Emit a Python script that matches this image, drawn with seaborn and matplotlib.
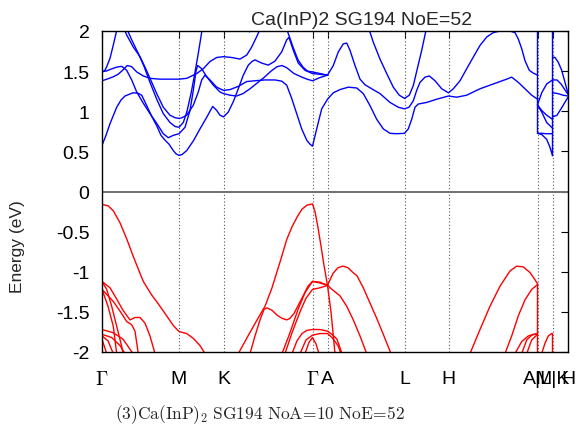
import matplotlib
matplotlib.use("Agg")
import matplotlib.pyplot as plt
import pandas as pd
import seaborn as sns

# ---------------- high-symmetry path ----------------
sym_k = [0, 77, 121.5, 210.5, 225.5, 302.5, 346.5, 435.5, 450.5, 466]
sym_labels = [r"$\Gamma$", "M", "K", r"$\Gamma$", "A", "L", "H", "A|L", "M|K", "H"]
y_ticks = [-2, -1.5, -1, -0.5, 0, 0.5, 1, 1.5, 2]
y_ticklabels = ["-2", "-1.5", "-1", "-0.5", "0", "0.5", "1", "1.5", "2"]

# ---------------- conduction bands (k, E in eV) ----------------
cb_1 = [(0, 0.575), (4, 0.70), (8, 0.845), (14.7, 1.05), (19, 1.14), (23, 1.19), (31, 1.23), (36, 1.225),
        (39.7, 1.20), (44.7, 1.07), (50, 0.93), (54.7, 0.82), (59, 0.70), (63, 0.64), (67, 0.59),
        (71.3, 0.51), (74, 0.47), (77, 0.45), (80, 0.46), (84.7, 0.51), (91.3, 0.63), (98, 0.78),
        (104.7, 0.925), (110.7, 1.06), (114.7, 1.01), (118, 0.95), (121.5, 0.93), (126.3, 0.99),
        (131.3, 1.12), (136.3, 1.28), (141.3, 1.45), (146.3, 1.575), (150, 1.62), (153, 1.64),
        (159.7, 1.60), (166.3, 1.575), (173, 1.625), (179.7, 1.74), (184.7, 1.89), (187, 1.92),
        (191.3, 1.76), (196.3, 1.60), (203, 1.51), (210.5, 1.47), (218, 1.46), (225.5, 1.45),
        (231.3, 1.57), (236.3, 1.74), (241.3, 1.84), (244.7, 1.85), (248, 1.76), (253, 1.57),
        (258, 1.40), (263, 1.33), (269.7, 1.28), (278, 1.22), (288, 1.11), (296.3, 1.05), (302.5, 1.03),
        (307, 1.05), (311.3, 1.13), (314.7, 1.26), (318, 1.36), (323, 1.425), (327.3, 1.44),
        (333, 1.38), (339.7, 1.28), (346.5, 1.23), (351.3, 1.28), (358, 1.38), (364.7, 1.53),
        (371.3, 1.675), (378, 1.82), (384.7, 1.925), (391.3, 1.98), (398, 2.0), (404, 2.01),
        (408, 2.0), (413, 1.98), (416.3, 1.90), (419.7, 1.78), (423, 1.63), (427.3, 1.51),
        (431.3, 1.475), (435.5, 1.45)]
cb_2 = [(0, 1.50), (4, 1.50), (8, 1.52), (14.7, 1.55), (19.7, 1.56), (24.7, 1.51), (29.7, 1.39),
        (34.7, 1.24), (41.3, 1.10), (48, 0.97), (54.7, 0.85), (61.3, 0.72), (66.3, 0.67), (71.3, 0.70),
        (77, 0.72), (83, 0.80), (88, 1.01), (91.3, 1.26), (94, 1.50), (95.7, 1.57), (99.7, 1.53),
        (104.7, 1.43), (111.3, 1.325), (118, 1.24), (121.5, 1.22), (128, 1.20), (134.7, 1.19),
        (141, 1.22), (148, 1.28), (155, 1.35), (162, 1.42), (169, 1.50), (175, 1.555), (180, 1.57),
        (185, 1.54), (192, 1.47), (199, 1.43), (205, 1.40), (210.5, 1.38), (218, 1.42), (225.5, 1.45)]
cb_3 = [(0, 1.38), (5, 1.40), (11.3, 1.43), (16, 1.46), (19.7, 1.50), (25.3, 1.57), (29.7, 1.555),
        (34.7, 1.49), (41.3, 1.44), (48, 1.41), (58, 1.40), (67, 1.40), (77, 1.40), (84.7, 1.41),
        (89.7, 1.44), (94.7, 1.47), (101.3, 1.53), (108, 1.62), (114.7, 1.67), (121.5, 1.68),
        (129.7, 1.67), (138, 1.65), (144.7, 1.70), (149.7, 1.80), (154.7, 1.93), (158, 2.02)]
cb_4 = [(0, 1.49), (2.5, 1.50), (4.7, 1.555), (8, 1.66), (11.3, 1.825), (14, 1.97), (15.3, 2.05)]
cb_5 = [(21.3, 2.05), (24.7, 1.95), (31.3, 1.80), (38, 1.68), (43, 1.55), (48, 1.41), (54.7, 1.22),
        (61.3, 1.05), (68, 0.95), (73, 0.92), (77, 0.91), (80, 0.92), (84.7, 0.95), (91.3, 1.075),
        (96.3, 1.24), (99.7, 1.39), (103, 1.45), (108, 1.39), (114.7, 1.30), (121.5, 1.26),
        (128, 1.27), (136.3, 1.31), (144.7, 1.37), (153, 1.38), (163, 1.39), (173, 1.39),
        (179.7, 1.375), (184.7, 1.325), (189.7, 1.16), (194.7, 0.97), (199.7, 0.78), (204.7, 0.64),
        (208, 0.59), (210.5, 0.565), (214.7, 0.78), (219.7, 1.03), (225.5, 1.15), (231.3, 1.23),
        (238, 1.27), (246.3, 1.30), (254.7, 1.29), (261.3, 1.22), (268, 1.07), (274.7, 0.90),
        (281.3, 0.78), (288, 0.725), (294.7, 0.72), (302.5, 0.725), (306.3, 0.78), (309.7, 0.90),
        (313, 1.05), (316.3, 1.09), (324.7, 1.11), (334.7, 1.15), (346.5, 1.19), (354.7, 1.175),
        (364.7, 1.20), (378, 1.28), (391.3, 1.34), (398, 1.37), (404.7, 1.40), (409.7, 1.425),
        (416.3, 1.36), (423, 1.28), (429.7, 1.20), (435.5, 1.15)]
cb_6 = [(24, 2.05), (29.7, 1.89), (36.3, 1.72), (42, 1.56), (48, 1.36), (54.7, 1.15), (61.3, 0.97),
        (68, 0.86), (73, 0.81), (77, 0.80), (81.3, 0.86), (85, 1.0), (89, 1.22), (92.5, 1.45),
        (96, 1.70), (99, 1.93), (100.5, 2.05)]
cb_7 = [(143.5, 2.05), (147.5, 1.99), (151.5, 2.05)]
cb_8 = [(184, 2.05), (191, 1.80), (196, 1.64), (201, 1.55), (205.5, 1.50), (210.5, 1.49), (218, 1.47),
        (225.5, 1.45)]
cb_9 = [(266.3, 2.05), (271.3, 1.86), (278, 1.65), (284.7, 1.47), (291.3, 1.30), (297.3, 1.20),
        (302.5, 1.16), (307.3, 1.20), (311.3, 1.32), (315.3, 1.53), (319.7, 1.76), (323, 1.95),
        (324.7, 2.05)]
cb_10 = [(435.5, 2.1), (435.5, 0.725), (440, 0.725), (444, 0.72), (450.5, 0.72)]
cb_11 = [(435.5, 0.725), (439.7, 0.71), (444.7, 0.65), (448, 0.55), (450.5, 0.445), (450.5, 2.1)]
cb_12 = [(435.5, 1.08), (439.7, 0.99), (444.7, 0.86), (450.5, 0.79)]
cb_13 = [(435.5, 1.08), (439.7, 1.01), (444.7, 0.95), (450.5, 0.90)]
cb_14 = [(435.5, 1.08), (439.7, 1.23), (444.7, 1.34), (450.5, 1.39)]
cb_15 = [(450.5, 1.675), (453, 1.67), (456.3, 1.61), (459.7, 1.51), (463, 1.36), (466, 1.22)]
cb_16 = [(450.5, 1.23), (456, 1.22), (461, 1.20), (466, 1.19)]
cb_17 = [(450.5, 0.93), (455, 0.95), (460, 1.05), (466, 1.175)]
cb_18 = [(450.5, 1.39), (455, 1.39), (459, 1.34), (466, 1.21)]

# ---------------- valence bands (k, E in eV) ----------------
vb_1 = [(0, -0.16), (6.3, -0.18), (11.3, -0.24), (18, -0.39), (24.7, -0.59), (31.3, -0.81),
        (38, -1.02), (41.3, -1.12), (44.7, -1.19), (49.7, -1.29), (56.3, -1.40), (64.7, -1.55),
        (71.3, -1.67), (77, -1.745), (84.7, -1.77), (91.3, -1.83), (98, -1.92), (103, -2.02)]
vb_2 = [(136.3, -2.02), (146, -1.80), (156, -1.58), (163, -1.43), (170, -1.2), (178, -0.88),
        (184.7, -0.6), (190, -0.44), (195, -0.32), (200, -0.22), (205, -0.17), (210.5, -0.155),
        (213, -0.25), (216, -0.45), (219, -0.68), (222, -0.92), (225.5, -1.17), (229, -1.5),
        (233, -2.02)]
vb_3 = [(0, -1.12), (8, -1.2), (14.7, -1.34), (21, -1.48), (28, -1.6), (33, -1.57), (38, -1.57),
        (43, -1.64), (48, -1.80), (53, -2.02)]
vb_4 = [(0, -1.22), (11.3, -1.37), (18, -1.49), (24.7, -1.62), (29.7, -1.66), (33, -1.74),
        (36.3, -2.02)]
vb_5 = [(0, -1.12), (4.7, -1.22), (9.7, -1.43), (14.7, -1.68), (19.7, -1.93), (21, -2.02)]
vb_6 = [(0, -1.22), (6, -1.43), (11.3, -1.68), (14.7, -2.02)]
vb_7 = [(0, -1.72), (11.3, -1.76), (21, -1.84), (31, -2.02)]
vb_8 = [(0, -1.78), (9.7, -1.82), (18, -1.92), (23, -2.02)]
vb_9 = [(0, -1.80), (6, -1.86), (11.3, -2.02)]
vb_10 = [(0, -1.84), (4.7, -2.02)]
vb_11 = [(148, -2.02), (153, -1.80), (158, -1.60), (162, -1.47), (165, -1.45), (170, -1.48),
         (175, -1.54), (180, -1.58), (184.7, -1.60), (188, -1.58), (192, -1.52), (197, -1.40),
         (202, -1.28), (206, -1.18), (210.5, -1.12), (218, -1.14), (225.5, -1.17)]
vb_12 = [(180, -2.02), (188, -1.76), (196, -1.47), (203, -1.26), (210.5, -1.12), (218, -1.13),
         (225.5, -1.17), (231, -1.02), (236, -0.95), (241, -0.93), (246, -0.95), (251, -1.01),
         (255, -1.05), (261.3, -1.2), (268, -1.39), (274.7, -1.58), (281.3, -1.78), (289, -2.02)]
vb_13 = [(183, -2.02), (190, -1.76), (198, -1.5), (204, -1.33), (210.5, -1.22), (218, -1.20),
         (225.5, -1.17), (230, -1.22), (238, -1.30), (244.7, -1.43), (251.3, -1.6), (258, -1.80),
         (264.7, -2.02)]
vb_14 = [(190, -2.02), (195, -1.86), (200, -1.77), (205, -1.73), (210.5, -1.72), (218, -1.72),
         (225.5, -1.74), (230, -1.78), (235, -1.84), (240, -2.02)]
vb_15 = [(198, -2.02), (204, -1.85), (210.5, -1.79), (218, -1.77), (225.5, -1.77), (230, -1.82),
         (236, -1.92), (239, -2.02)]
vb_16 = [(203, -2.02), (207, -1.88), (210.5, -1.82), (214, -1.90), (217, -2.02)]
vb_17 = [(368, -2.02), (378, -1.72), (388, -1.43), (398, -1.18), (408, -0.99), (414.7, -0.93),
         (421.3, -0.94), (428, -1.01), (433, -1.10), (435.5, -1.15), (435.5, -2.1)]
vb_18 = [(403, -2.02), (409.7, -1.80), (416.3, -1.55), (423, -1.35), (429.7, -1.22), (435.5, -1.16)]
vb_19 = [(413, -2.02), (419.7, -1.87), (426.3, -1.80), (431.3, -1.78), (435.5, -1.77)]
vb_20 = [(419.7, -2.02), (424.7, -1.85), (429.7, -1.79), (435.5, -1.77)]
vb_21 = [(424.7, -2.02), (429.7, -1.85), (435.5, -1.78)]
vb_22 = [(439.7, -2.02), (443, -1.89), (446.3, -1.80), (449.7, -1.77), (450.5, -1.77), (450.5, -2.1)]

conduction = [cb_1, cb_2, cb_3, cb_4, cb_5, cb_6, cb_7, cb_8, cb_9, cb_10, cb_11, cb_12, cb_13,
              cb_14, cb_15, cb_16, cb_17, cb_18]
valence = [vb_1, vb_2, vb_3, vb_4, vb_5, vb_6, vb_7, vb_8, vb_9, vb_10, vb_11, vb_12, vb_13,
           vb_14, vb_15, vb_16, vb_17, vb_18, vb_19, vb_20, vb_21, vb_22]

rows = []
for kind, bands in (("conduction", conduction), ("valence", valence)):
    for i, band in enumerate(bands):
        for order, (k, e) in enumerate(band):
            rows.append({"k": k, "E": e, "band": f"{kind}{i}", "kind": kind, "order": order})
df = pd.DataFrame(rows)

sns.set_style("white")
plt.rcParams["font.family"] = ["Liberation Sans", "DejaVu Sans"]
plt.rcParams["mathtext.fontset"] = "cm"

fig = plt.figure(figsize=(5.76, 4.39), dpi=100)
ax = fig.add_axes([102 / 576, 1 - 353 / 439, 466 / 576, 321 / 439])

for k in sym_k[1:-1]:
    ax.axvline(k, color="#555555", lw=0.8, ls=(0, (1, 2)), zorder=1)
ax.axhline(0, color="#707070", lw=1.4, zorder=1)

sns.lineplot(data=df, x="k", y="E", units="band", hue="kind",
             palette={"conduction": "#0000ff", "valence": "#ff0000"},
             estimator=None, sort=False, legend=False, lw=1.0, ax=ax, zorder=2)

ax.set_xlim(sym_k[0], sym_k[-1])
ax.set_ylim(-2, 2)
ax.set_xticks(sym_k)
ax.set_xticklabels(sym_labels)
ax.set_yticks(y_ticks)
ax.set_yticklabels(y_ticklabels)
for s in ax.spines.values():
    s.set_color("black")
    s.set_linewidth(1.0)
ax.tick_params(axis="both", direction="in", top=True, right=True, length=5, width=0.8,
               labelsize=14, colors="black")
ax.tick_params(axis="x", pad=13)
ax.tick_params(axis="y", pad=9)

ax.set_title("Ca(InP)2 SG194 NoE=52", fontsize=14, pad=5, x=0.558)
ax.set_ylabel("Energy (eV)", fontsize=12.5)
ax.yaxis.set_label_coords(-0.165, 0.33)
ax.set_xlabel(r"$\mathrm{(3)Ca(InP)_2\ SG194\ NoA\!=\!10\ NoE\!=\!52}$", fontsize=12.5)
ax.xaxis.set_label_coords(0.339, -0.158)

fig.savefig("out.png", dpi=100)
